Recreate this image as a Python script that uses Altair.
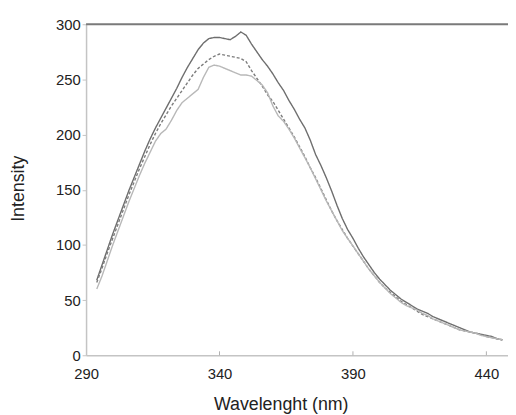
import altair as alt
import pandas as pd

# wavelengths (nm)
wavelength = [294, 296, 298, 300, 302, 304, 306, 308, 310, 312,
              314, 316, 318, 320, 322, 324, 326, 328, 330, 332,
              334, 336, 338, 340, 342, 344, 346, 348, 350, 352,
              354, 356, 358, 360, 362, 364, 366, 368, 370, 372,
              374, 376, 378, 380, 382, 384, 386, 388, 390, 392,
              394, 396, 398, 400, 402, 404, 406, 408, 410, 412,
              414, 416, 418, 420, 422, 424, 426, 428, 430, 432,
              434, 436, 438, 440, 442, 444, 446]

series_top = [68, 82, 96, 110, 123, 136, 149, 161, 173, 185,
              196, 206, 215, 224, 233, 242, 252, 261, 269, 277,
              283, 287, 288, 288, 287, 286, 289, 293, 290, 282,
              275, 268, 262, 255, 247, 240, 231, 223, 214, 206,
              195, 182, 172, 161, 149, 136, 124, 114, 106, 97,
              89, 82, 75, 69, 64, 59, 55, 51, 48, 45,
              42, 40, 38, 35, 33, 31, 29, 27, 25, 23,
              21, 20, 19, 18, 17, 15, 14]

series_dashed = [66, 79, 93, 106, 119, 132, 145, 157, 169, 180,
                 191, 201, 210, 218, 226, 233, 240, 247, 254, 260,
                 264, 268, 271, 273, 272, 271, 270, 269, 266, 258,
                 251, 244, 236, 230, 222, 214, 206, 198, 189, 180,
                 170, 161, 151, 141, 131, 122, 114, 106, 99, 92,
                 85, 78, 72, 66, 61, 57, 53, 49, 46, 43,
                 40, 37, 35, 33, 31, 29, 27, 25, 23, 22,
                 21, 20, 19, 17, 16, 15, 14]

series_light = [60, 72, 86, 100, 113, 126, 139, 151, 163, 174,
                184, 194, 201, 205, 213, 222, 229, 233, 237, 241,
                252, 261, 263, 262, 260, 258, 256, 254, 254, 253,
                249, 245, 238, 226, 217, 212, 205, 197, 188, 179,
                170, 160, 150, 140, 131, 122, 113, 106, 99, 92,
                85, 78, 72, 66, 61, 56, 52, 48, 45, 43,
                41, 38, 36, 33, 31, 29, 27, 25, 23, 22,
                21, 20, 18, 17, 16, 15, 14]

series_names = ["A", "B", "C"]
series_colors = ["#6e6e6e", "#7c7c7c", "#b8b8b8"]
series_dashes = [[1, 0], [3, 2], [1, 0]]

x_ticks = [290, 340, 390, 440]
y_ticks = [0, 50, 100, 150, 200, 250, 300]
inner_ticks = [340, 390, 440]

rows = []
for name, vals in zip(series_names, [series_top, series_dashed, series_light]):
    for w, v in zip(wavelength, vals):
        rows.append({"wl": w, "val": v, "series": name})
df = pd.DataFrame(rows)

W, H = 427, 335
xscale = alt.Scale(domain=[290, 448.1], nice=False, zero=False)
yscale = alt.Scale(domain=[0, 300], nice=False)

lines = alt.Chart(df).mark_line(strokeWidth=1.4).encode(
    x=alt.X("wl:Q", scale=xscale, axis=alt.Axis(
        values=x_ticks, ticks=False, tickSize=0, grid=False,
        domainColor="#c4c4c4", domainWidth=1.5,
        labelFont="Liberation Sans", labelFontSize=15, labelColor="#222222",
        labelPadding=12, labelFlush=False,
        title="Wavelenght (nm)", titleFont="Liberation Sans", titleFontSize=18,
        titleFontWeight="normal", titleColor="#222222",
        titleX=197, titleY=55, titleBaseline="alphabetic", titleAlign="center")),
    y=alt.Y("val:Q", scale=yscale, axis=alt.Axis(
        values=y_ticks, tickSize=4, tickColor="#c4c4c4", grid=False,
        domainColor="#c4c4c4", domainWidth=1.5,
        labelFont="Liberation Sans", labelFontSize=15, labelColor="#222222",
        labelPadding=2,
        title="Intensity", titleFont="Liberation Sans", titleFontSize=18,
        titleFontWeight="normal", titleColor="#222222",
        titleX=-68, titleY=166, titleAngle=270, titleBaseline="middle",
        titleAlign="center")),
    color=alt.Color("series:N", scale=alt.Scale(domain=series_names, range=series_colors), legend=None),
    strokeDash=alt.StrokeDash("series:N", scale=alt.Scale(domain=series_names, range=series_dashes), legend=None),
)

top_rule = alt.Chart(pd.DataFrame({"y": [300]})).mark_rule(
    color="#7a7a7a", strokeWidth=2.2).encode(y=alt.Y("y:Q", scale=yscale))

tick_marks = alt.Chart(pd.DataFrame({"t": inner_ticks})).mark_rule(
    color="#b0b0b0", strokeWidth=1).encode(
    x=alt.X("t:Q", scale=xscale), y=alt.value(H), y2=alt.value(H - 4))

chart = alt.layer(lines, top_rule, tick_marks).properties(
    width=W, height=H,
    autosize=alt.AutoSizeParams(type="none"),
    padding={"left": 79, "top": 14, "right": 0, "bottom": 58},
).configure_view(stroke=None)

chart.save("out.html", embed_options={"renderer": "svg", "actions": False})
